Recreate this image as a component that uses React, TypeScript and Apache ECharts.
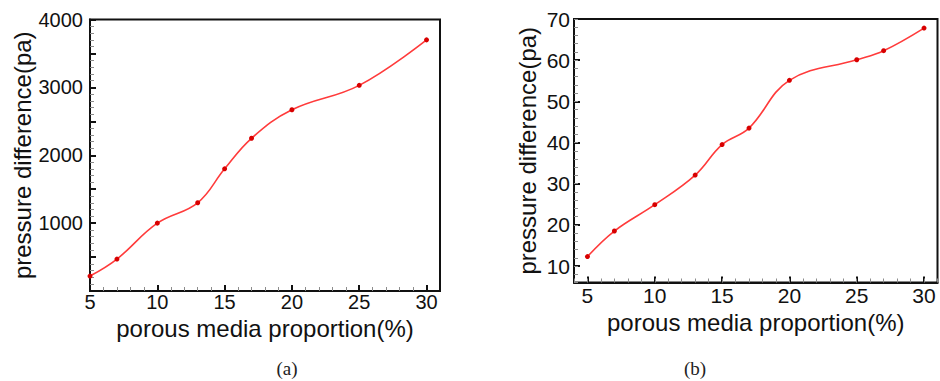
import React, { useEffect, useRef } from "react";
import * as echarts from "echarts";

// Panel (a)
const xA = [5, 7, 10, 13, 15, 17, 20, 25, 30];
const yA = [220, 470, 1000, 1300, 1800, 2250, 2670, 3030, 3700];
const xLabelsA = [5, 10, 15, 20, 25, 30];
const yLabelsA = [1000, 2000, 3000, 4000];

// Panel (b)
const xB = [5, 7, 10, 13, 15, 17, 20, 25, 27, 30];
const yB = [12.3, 18.5, 24.9, 32.1, 39.5, 43.5, 55.1, 60.1, 62.3, 67.8];
const xLabelsB = [5, 10, 15, 20, 25, 30];
const yLabelsB = [10, 20, 30, 40, 50, 60, 70];

const xTitle = "porous media proportion(%)";
const yTitle = "pressure difference(pa)";
const captions = ["(a)", "(b)"];

const SANS = "'Liberation Sans', Arial, sans-serif";
const INK = "#111111";
const MINOR = "#8c8c8c";

function baseAxis(opts: any) {
  return {
    type: "value",
    gridIndex: opts.grid,
    position: opts.position,
    min: opts.min,
    max: opts.max,
    name: opts.name,
    nameLocation: "middle",
    nameGap: opts.nameGap,
    nameTextStyle: { fontFamily: SANS, fontSize: opts.nameSize, color: INK },
    axisLine: { show: true, onZero: false, lineStyle: { color: INK, width: 2 } },
    splitLine: { show: false },
  };
}

function axisA(opts: any) {
  return {
    ...baseAxis(opts),
    interval: opts.interval,
    axisTick: { show: true, inside: true, length: 6, lineStyle: { color: INK, width: 2 } },
    minorTick: { show: true, splitNumber: 5, length: 4, lineStyle: { color: MINOR, width: 1 } },
    axisLabel: {
      show: true,
      margin: opts.margin,
      fontFamily: SANS,
      fontSize: opts.labelSize,
      color: INK,
      formatter: (v: number) => (opts.labels.indexOf(v) >= 0 ? String(v) : ""),
    },
  };
}

function axisB(opts: any) {
  return {
    ...baseAxis(opts),
    axisTick: {
      show: true,
      inside: true,
      length: 6,
      customValues: opts.labels,
      lineStyle: { color: INK, width: 2 },
    },
    axisLabel: {
      show: true,
      customValues: opts.labels,
      margin: opts.margin,
      fontFamily: SANS,
      fontSize: opts.labelSize,
      color: INK,
      formatter: (v: number) => String(v),
    },
  };
}

function minorAxis(opts: any) {
  return {
    type: "value",
    gridIndex: opts.grid,
    position: opts.position,
    min: opts.min,
    max: opts.max,
    interval: opts.interval,
    axisLine: { show: true, onZero: false, lineStyle: { color: "rgba(0,0,0,0)", width: 0 } },
    axisTick: { show: true, inside: true, length: 4, lineStyle: { color: MINOR, width: 1 } },
    axisLabel: { show: false },
    splitLine: { show: false },
  };
}

export default function App() {
  const ref = useRef<HTMLDivElement>(null);
  useEffect(() => {
    if (!ref.current) return;
    const chart = echarts.init(ref.current, null, { renderer: "svg" });
    const lineStyle = { color: "#ff3b3b", width: 1.6 };
    const itemStyle = { color: "#d80000" };
    chart.setOption({
      animation: false,
      backgroundColor: "#ffffff",
      grid: [
        { left: 90, top: 19.5, width: 350, height: 271.5, show: true, borderColor: INK, borderWidth: 2, backgroundColor: "transparent" },
        { left: 574, top: 19, width: 363.5, height: 263.5, show: true, borderColor: INK, borderWidth: 2, backgroundColor: "transparent" },
      ],
      xAxis: [
        axisA({ grid: 0, position: "bottom", min: 5, max: 31, interval: 5, name: xTitle, nameGap: 18, nameSize: 24, labels: xLabelsA, margin: 1, labelSize: 20 }),
        axisB({ grid: 1, position: "bottom", min: 4, max: 31, name: xTitle, nameGap: 25, nameSize: 24, labels: xLabelsB, margin: 2, labelSize: 21 }),
        minorAxis({ grid: 1, position: "bottom", min: 4, max: 31, interval: 1 }),
      ],
      yAxis: [
        axisA({ grid: 0, position: "left", min: 0, max: 4000, interval: 500, name: yTitle, nameGap: 54, nameSize: 24, labels: yLabelsA, margin: 7, labelSize: 20 }),
        axisB({ grid: 1, position: "left", min: 6, max: 70, name: yTitle, nameGap: 35, nameSize: 24, labels: yLabelsB, margin: 4, labelSize: 21 }),
        minorAxis({ grid: 1, position: "left", min: 6, max: 70, interval: 2 }),
      ],
      series: [
        {
          type: "line",
          xAxisIndex: 0,
          yAxisIndex: 0,
          data: xA.map((x, i) => [x, yA[i]]),
          smooth: 0.4,
          symbol: "circle",
          symbolSize: 5,
          lineStyle,
          itemStyle,
        },
        {
          type: "line",
          xAxisIndex: 1,
          yAxisIndex: 1,
          data: xB.map((x, i) => [x, yB[i]]),
          smooth: 0.4,
          symbol: "circle",
          symbolSize: 5,
          lineStyle,
          itemStyle,
        },
      ],
      graphic: [
        { type: "text", x: 287, y: 368, style: { text: captions[0], font: "19px 'Liberation Serif', 'Times New Roman', serif", fill: "#222", align: "center", verticalAlign: "middle" } },
        { type: "text", x: 695, y: 368, style: { text: captions[1], font: "19px 'Liberation Serif', 'Times New Roman', serif", fill: "#222", align: "center", verticalAlign: "middle" } },
      ],
    });
    return () => chart.dispose();
  }, []);
  return (
    <div
      ref={ref}
      style={{ position: "absolute", left: 0, top: 0, width: 940, height: 381, background: "#fff" }}
    />
  );
}
